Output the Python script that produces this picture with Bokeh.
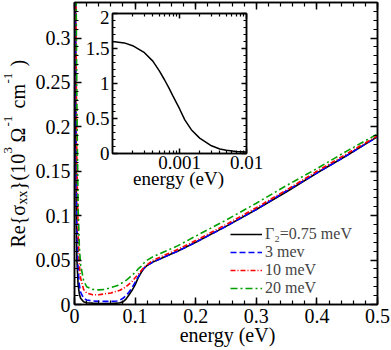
import math
import numpy as np
from bokeh.plotting import figure
from bokeh.layouts import column
from bokeh.models import (FixedTicker, LinearAxis, LogAxis, Legend, LegendItem, Label,
                          CustomJSTickFormatter)
from bokeh.embed import file_html
from bokeh.resources import INLINE

# ---------------- data ----------------
energy = [0, 0.001, 0.002, 0.003, 0.004, 0.006, 0.008, 0.01, 0.015, 0.02, 0.03,
          0.04, 0.05, 0.06, 0.07, 0.075, 0.08, 0.085, 0.09, 0.095, 0.1, 0.105,
          0.11, 0.115, 0.12, 0.13, 0.14, 0.15, 0.17, 0.2, 0.25, 0.3, 0.35, 0.4,
          0.45, 0.5]
sigma_075 = [1.6, 0.6, 0.2, 0.09, 0.05, 0.022, 0.012, 0.007, 0.003, 0.002, 0.0015,
             0.0012, 0.0012, 0.0012, 0.0015, 0.002, 0.003, 0.006, 0.011, 0.016, 0.022, 0.030,
             0.036, 0.041, 0.044, 0.048, 0.051, 0.054, 0.060, 0.070, 0.088, 0.107, 0.127, 0.148,
             0.168, 0.189]
sigma_3 = [1.2, 0.7, 0.3, 0.15, 0.09, 0.04, 0.022, 0.014, 0.007, 0.005, 0.004,
           0.0035, 0.0035, 0.0035, 0.004, 0.005, 0.007, 0.010, 0.014, 0.019, 0.025, 0.031,
           0.037, 0.041, 0.044, 0.048, 0.051, 0.054, 0.060, 0.070, 0.088, 0.107, 0.128, 0.148,
           0.168, 0.189]
sigma_10 = [1.0, 0.7, 0.4, 0.25, 0.16, 0.08, 0.045, 0.03, 0.017, 0.013, 0.011,
            0.011, 0.012, 0.013, 0.015, 0.016, 0.018, 0.020, 0.023, 0.026, 0.030, 0.034,
            0.038, 0.042, 0.045, 0.050, 0.053, 0.056, 0.062, 0.072, 0.090, 0.109, 0.129, 0.150,
            0.170, 0.190]
sigma_20 = [0.8, 0.6, 0.45, 0.32, 0.22, 0.11, 0.065, 0.045, 0.027, 0.020, 0.017,
            0.0165, 0.017, 0.019, 0.021, 0.023, 0.025, 0.027, 0.030, 0.033, 0.036, 0.040,
            0.043, 0.047, 0.050, 0.054, 0.057, 0.060, 0.066, 0.077, 0.095, 0.114, 0.134, 0.153,
            0.173, 0.192]
series_labels = ["Γ₂=0.75 meV", "3 mev", "10 meV", "20 meV"]

inset_energy = [1e-4, 1.5e-4, 2e-4, 3e-4, 4e-4, 5e-4, 6e-4, 7e-4, 8e-4, 1e-3,
                1.2e-3, 1.5e-3, 2e-3, 3e-3, 4e-3, 5e-3, 7e-3, 1e-2]
inset_sigma = [1.60, 1.58, 1.54, 1.44, 1.32, 1.18, 1.05, 0.93, 0.82, 0.64,
               0.48, 0.34, 0.22, 0.11, 0.065, 0.045, 0.03, 0.02]

x_ticks = [0, 0.1, 0.2, 0.3, 0.4, 0.5]
x_tick_labels = ["0", "0.1", "0.2", "0.3", "0.4", "0.5"]
y_ticks = [0, 0.05, 0.1, 0.15, 0.2, 0.25, 0.3]
y_tick_labels = ["0", "0.05", "0.1", "0.15", "0.2", "0.25", "0.3"]
ix_ticks = [0.001, 0.01]
ix_tick_labels = ["0.001", "0.01"]
iy_ticks = [0, 0.5, 1, 1.5, 2]
iy_tick_labels = ["0", "0.5", "1", "1.5", "2"]

# ---------------- styles ----------------
FONT = "Liberation Serif"
BLACK = "black"
W, H = 391, 350
ROT_FIX = 8    # svg text sits this many px further from its baseline anchor
HOR_FIX = 8

x_minor = [round(v, 4) for v in np.arange(0, 0.5001, 0.02)]
y_minor = [round(v, 4) for v in np.arange(0, 0.3401, 0.01)]


def style_axis(ax, ticks, minor, labels, show, tin=7, tmin=4, size="20px", standoff=3):
    ax.ticker = FixedTicker(ticks=ticks, minor_ticks=minor)
    ax.major_tick_in = tin
    ax.major_tick_out = 0
    ax.minor_tick_in = tmin
    ax.minor_tick_out = 0
    ax.axis_line_width = 1.5
    ax.major_tick_line_width = 1.5
    ax.minor_tick_line_width = 1.2
    ax.axis_line_color = BLACK
    ax.major_tick_line_color = BLACK
    ax.minor_tick_line_color = BLACK
    if show:
        ax.major_label_overrides = {t: l for t, l in zip(ticks, labels)}
        ax.major_label_text_font = FONT
        ax.major_label_text_font_size = size
        ax.major_label_text_color = BLACK
        ax.major_label_standoff = standoff
    else:
        ax.formatter = CustomJSTickFormatter(code="return ''")
        ax.major_label_text_font_size = "0px"
        ax.major_label_standoff = 0


# ---------------- layer 1: axis titles (page-pixel coordinates) ----------------
ann = figure(width=W, height=H, x_range=(0, W), y_range=(H, 0),
             output_backend="svg", toolbar_location=None,
             x_axis_location=None, y_axis_location=None,
             min_border=0, border_fill_color="white", background_fill_color="white",
             outline_line_color=None)
ann.frame_align = False
ann.xgrid.visible = False
ann.ygrid.visible = False

ann.add_layout(Label(x=227, y=342 - HOR_FIX, text="energy (eV)", text_align="center",
                     text_baseline="alphabetic", text_font=FONT, text_font_size="20px",
                     text_color=BLACK))
ann.add_layout(Label(x=178, y=186 - HOR_FIX, text="energy (eV)", text_align="center",
                     text_baseline="alphabetic", text_font=FONT, text_font_size="19px",
                     text_color=BLACK))

ylabel_pieces = [("Re{σ", 20, 0, 247), ("xx", 14, 5, 204), ("}", 20, 0, 190),
                 ("(10", 20, 0, 180), ("3", 13, -10, 153), ("Ω", 20, 0, 142),
                 ("-1", 13, -10, 126), ("cm", 20, 0, 108), ("-1", 13, -10, 83),
                 (")", 20, 0, 66)]
for txt, size, shift, start in ylabel_pieces:
    ann.add_layout(Label(x=25 + shift - ROT_FIX, y=start, text=txt, angle=math.pi / 2,
                         text_align="left", text_baseline="alphabetic", text_font=FONT,
                         text_font_size=f"{size}px", text_color=BLACK))

# ---------------- layer 2: main plot ----------------
p = figure(width=W, height=H, x_range=(0, 0.5), y_range=(0, 0.34),
           output_backend="svg", toolbar_location=None,
           min_border_left=74, min_border_right=14, min_border_top=2,
           min_border_bottom=46, border_fill_color=None, background_fill_color=None)
p.frame_align = False
p.xgrid.visible = False
p.ygrid.visible = False
p.outline_line_color = BLACK
p.outline_line_width = 1.5

style_axis(p.xaxis[0], x_ticks, x_minor, x_tick_labels, True, standoff=4)
style_axis(p.yaxis[0], y_ticks, y_minor, y_tick_labels, True, standoff=4)
top_ax = LinearAxis()
right_ax = LinearAxis()
p.add_layout(top_ax, "above")
p.add_layout(right_ax, "right")
style_axis(top_ax, x_ticks, x_minor, x_tick_labels, False)
style_axis(right_ax, y_ticks, y_minor, y_tick_labels, False)

r0 = p.line(energy, sigma_075, line_color="black", line_width=1.6)
r1 = p.line(energy, sigma_3, line_color="#0000ff", line_width=1.6, line_dash="6 3")
r2 = p.line(energy, sigma_10, line_color="#ff0000", line_width=1.6, line_dash="5 2 1 2")
r3 = p.line(energy, sigma_20, line_color="#00a000", line_width=1.6, line_dash="7 3 2 3")

legend = Legend(items=[LegendItem(label=series_labels[i], renderers=[r])
                       for i, r in enumerate([r0, r1, r2, r3])],
                location=(156, 7), padding=0, margin=0, spacing=0,
                glyph_width=32, glyph_height=16, label_height=16, label_standoff=3,
                label_text_font=FONT, label_text_font_size="16px",
                border_line_color=None, background_fill_alpha=0)
p.add_layout(legend)
p.margin = (-H, 0, 0, 0)

# ---------------- layer 3: inset ----------------
INSET_LEFT, INSET_TOP, INSET_H = 78, 10, 169
inset = figure(width=186, height=INSET_H, x_axis_type="log", x_range=(1e-4, 1e-2),
               y_range=(0, 2), output_backend="svg", toolbar_location=None,
               min_border_left=34, min_border_right=18, min_border_top=3,
               min_border_bottom=26, border_fill_color=None,
               background_fill_color="white")
inset.frame_align = False
inset.xgrid.visible = False
inset.ygrid.visible = False
inset.outline_line_color = BLACK
inset.outline_line_width = 1.5
ix_minor = [m * 10.0 ** e for e in (-4, -3) for m in range(2, 10)]
iy_minor = [round(v, 2) for v in np.arange(0, 2.001, 0.1)]
style_axis(inset.xaxis[0], ix_ticks, ix_minor, ix_tick_labels, True, tin=5, tmin=3,
           size="19px", standoff=2)
style_axis(inset.yaxis[0], iy_ticks, iy_minor, iy_tick_labels, True, tin=5, tmin=3,
           size="19px", standoff=3)
itop = LogAxis()
iright = LinearAxis()
inset.add_layout(itop, "above")
inset.add_layout(iright, "right")
style_axis(itop, ix_ticks, ix_minor, ix_tick_labels, False, tin=5, tmin=3)
style_axis(iright, iy_ticks, iy_minor, iy_tick_labels, False, tin=5, tmin=3)
inset.line(inset_energy, inset_sigma, line_color="black", line_width=1.5)
inset.margin = (INSET_TOP - H, 0, 0, INSET_LEFT)

lay = column(ann, p, inset, spacing=0)
open("out.html", "w").write(file_html(lay, INLINE))
